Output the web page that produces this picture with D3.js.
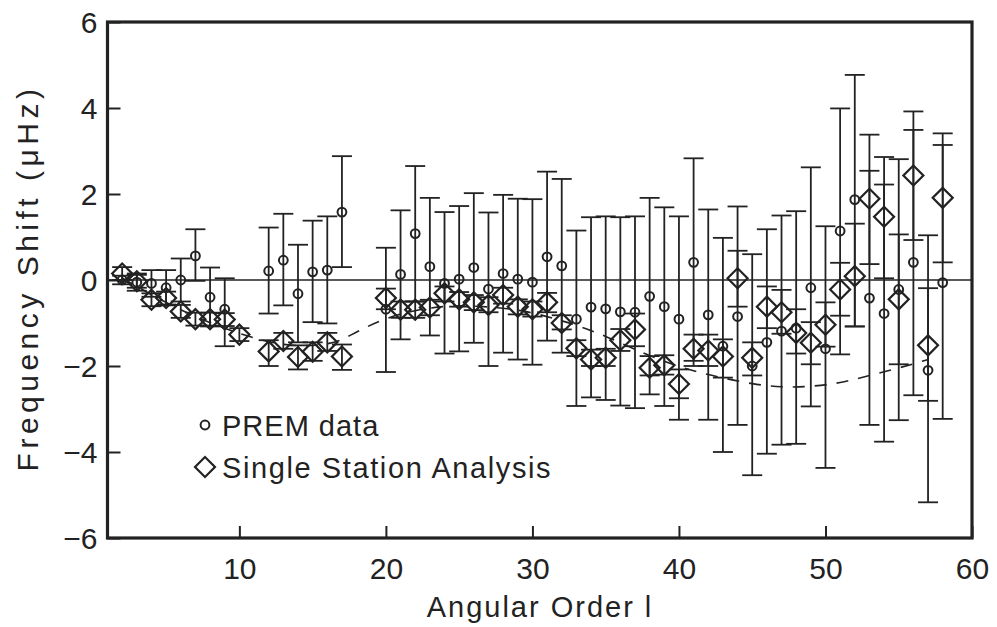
<!DOCTYPE html>
<html>
<head>
<meta charset="utf-8">
<script src="https://cdn.jsdelivr.net/npm/d3@7/dist/d3.min.js"></script>
<style>
  html, body { margin: 0; padding: 0; background: #fff; }
  svg { display: block; }
  text { font-family: "Liberation Sans", Arial, sans-serif; fill: #222; }
</style>
</head>
<body>
<svg id="chart" width="997" height="627"></svg>
<script>
// Angular order l for each dataset
const premL = [2,3,4,5,6,7,8,9,12,13,14,15,16,17,20,21,22,23,24,25,26,27,28,29,30,31,32,33,34,35,36,37,38,39,40,41,42,43,44,45,46,47,48,49,50,51,52,53,54,55,56,57,58];
// PREM frequency shift (µHz) and its error range
const premV  = [0.00,-0.05,-0.08,-0.18,0.00,0.56,-0.40,-0.68,0.21,0.46,-0.32,0.19,0.23,1.58,-0.68,0.13,1.08,0.31,-0.08,0.02,0.29,-0.21,0.15,0.02,-0.05,0.54,0.33,-0.91,-0.63,-0.67,-0.74,-0.75,-0.38,-0.62,-0.91,0.41,-0.81,-1.54,-0.85,-2.00,-1.45,-1.19,-1.12,-0.18,-1.60,1.14,1.87,-0.42,-0.78,-0.22,0.41,-2.10,-0.06];
const premLo = [-0.10,-0.25,-0.39,-0.59,-0.50,-0.02,-1.08,-1.54,-0.78,-0.59,-1.45,-0.98,-1.01,0.30,-2.14,-1.38,-0.50,-1.29,-1.71,-1.66,-1.46,-2.00,-1.69,-1.85,-1.97,-1.41,-1.69,-2.93,-2.73,-2.79,-2.92,-2.98,-2.66,-2.93,-3.25,-2.00,-3.25,-4.00,-3.37,-4.54,-4.04,-3.83,-3.81,-2.94,-4.37,-1.73,-1.08,-3.37,-3.76,-3.26,-2.68,-5.17,-3.23];
const premHi = [0.10,0.15,0.23,0.23,0.50,1.18,0.29,0.04,1.22,1.54,0.82,1.38,1.48,2.88,0.75,1.62,2.65,1.91,1.58,1.72,2.02,1.57,1.98,1.89,1.88,2.52,2.35,1.15,1.46,1.48,1.46,1.48,1.91,1.69,1.48,2.83,1.64,0.98,1.71,0.60,1.18,1.50,1.60,2.62,1.25,3.99,4.77,3.38,2.86,2.81,3.92,1.04,3.41];

const ssaL = [2,3,4,5,6,7,8,9,10,12,13,14,15,16,17,20,21,22,23,24,25,26,27,28,29,30,31,32,33,34,35,36,37,38,39,40,41,42,43,44,45,46,47,48,49,50,51,52,53,54,55,56,57,58];
// Single station analysis frequency shift (µHz) and its error range
const ssaV  = [0.15,-0.03,-0.46,-0.42,-0.73,-0.91,-0.91,-0.92,-1.27,-1.66,-1.42,-1.79,-1.67,-1.45,-1.78,-0.42,-0.69,-0.69,-0.64,-0.31,-0.45,-0.52,-0.58,-0.35,-0.62,-0.68,-0.52,-1.00,-1.59,-1.85,-1.81,-1.40,-1.15,-2.04,-1.98,-2.42,-1.60,-1.64,-1.78,0.04,-1.81,-0.62,-0.75,-1.23,-1.46,-1.04,-0.22,0.09,1.89,1.47,-0.45,2.43,-1.52,1.91];
const ssaLo = [0.00,-0.18,-0.61,-0.57,-0.88,-1.06,-1.06,-1.07,-1.42,-2.00,-1.60,-2.08,-1.88,-1.65,-2.09,-0.68,-0.88,-0.88,-0.82,-0.50,-0.62,-0.70,-0.75,-0.55,-0.80,-0.85,-0.75,-1.15,-1.77,-2.00,-2.00,-1.65,-1.54,-2.22,-2.20,-2.75,-1.88,-2.00,-2.27,-0.62,-2.22,-1.12,-1.25,-1.71,-1.96,-1.55,-0.83,-1.08,0.37,0.04,-1.96,0.93,-2.81,0.41];
const ssaHi = [0.30,0.12,-0.31,-0.27,-0.58,-0.76,-0.76,-0.77,-1.12,-1.40,-1.23,-1.52,-1.45,-1.23,-1.50,-0.20,-0.50,-0.50,-0.46,-0.15,-0.28,-0.35,-0.40,-0.18,-0.45,-0.50,-0.30,-0.82,-1.40,-1.62,-1.60,-1.14,-0.78,-1.77,-1.75,-2.08,-1.27,-1.27,-1.38,0.68,-1.45,-0.15,-0.23,-0.68,-0.98,-0.52,0.40,1.31,2.54,2.22,1.06,3.49,-0.19,3.14];

// Model curve (dashed)
const modelL = [2,4,6,8,10,12,14,16,17,18,20,22,24,26,28,30,32,33,35,37,39,41,43,45,47,49,51,53,55,57];
const modelV = [0.05,-0.35,-0.70,-1.00,-1.25,-1.45,-1.55,-1.50,-1.40,-1.20,-0.88,-0.70,-0.60,-0.60,-0.65,-0.75,-0.95,-1.05,-1.30,-1.62,-1.90,-2.12,-2.28,-2.42,-2.50,-2.48,-2.40,-2.22,-2.05,-1.85];

const xTicks = [10,20,30,40,50,60];
const yTicks = [-6,-4,-2,0,2,4,6];
const legendLabels = ["PREM data", "Single Station Analysis"];
const xTitle = "Angular Order l";
const yTitle = "Frequency Shift (\u03bcHz)";

const ink = "#222";
const svg = d3.select("#chart");

const x = d3.scaleLinear().domain([1, 60]).range([107.5, 972]);
const y = d3.scaleLinear().domain([-6, 6]).range([538, 22]);

// axes with inward ticks
const gx = svg.append("g").attr("transform", `translate(0,${y(-6)})`)
  .call(d3.axisBottom(x).tickValues(xTicks).tickSizeInner(-12).tickSizeOuter(0).tickPadding(20).tickFormat(d3.format("d")));
const gy = svg.append("g").attr("transform", `translate(${x(1)},0)`)
  .call(d3.axisLeft(y).tickValues(yTicks).tickSizeInner(-13).tickSizeOuter(0).tickPadding(10).tickFormat(d3.format("d")));
[gx, gy].forEach(g => {
  g.select(".domain").remove();
  g.selectAll(".tick line").attr("stroke", ink).attr("stroke-width", 2);
  g.selectAll(".tick text").attr("fill", ink).style("font-size", "30px").style("font-family", "Liberation Sans, Arial, sans-serif");
});
gy.selectAll(".tick text").attr("dy", "0.36em");

// zero line
svg.append("line")
  .attr("x1", x(1)).attr("x2", x(60)).attr("y1", y(0)).attr("y2", y(0))
  .attr("stroke", ink).attr("stroke-width", 1.6);

// dashed model curve
svg.append("path")
  .datum(modelL.map((l, i) => [l, modelV[i]]))
  .attr("fill", "none").attr("stroke", ink).attr("stroke-width", 1.6)
  .attr("stroke-dasharray", "12,10")
  .attr("d", d3.line().x(d => x(d[0])).y(d => y(d[1])).curve(d3.curveBasis));

const cap = 10;
function errorBars(ls, lo, hi) {
  const g = svg.append("g").attr("stroke", ink).attr("stroke-width", 1.8).attr("fill", "none");
  ls.forEach((l, i) => {
    const cx = x(l);
    g.append("line").attr("x1", cx).attr("x2", cx).attr("y1", y(lo[i])).attr("y2", y(hi[i]));
    g.append("line").attr("x1", cx - cap).attr("x2", cx + cap).attr("y1", y(lo[i])).attr("y2", y(lo[i]));
    g.append("line").attr("x1", cx - cap).attr("x2", cx + cap).attr("y1", y(hi[i])).attr("y2", y(hi[i]));
  });
}
errorBars(premL, premLo, premHi);
errorBars(ssaL, ssaLo, ssaHi);

const diamond = d3.symbol().type(d3.symbolSquare).size(200);

// diamond markers
svg.append("g").selectAll("path").data(ssaL).join("path")
  .attr("d", diamond)
  .attr("transform", (l, i) => `translate(${x(l)},${y(ssaV[i])}) rotate(45)`)
  .attr("fill", "none").attr("stroke", ink).attr("stroke-width", 2.2);

// circle markers
svg.append("g").selectAll("circle").data(premL).join("circle")
  .attr("cx", l => x(l)).attr("cy", (l, i) => y(premV[i])).attr("r", 4.4)
  .attr("fill", "none").attr("stroke", ink).attr("stroke-width", 2);

// frame
svg.append("rect")
  .attr("x", x(1)).attr("y", y(6)).attr("width", x(60) - x(1)).attr("height", y(-6) - y(6))
  .attr("fill", "none").attr("stroke", ink).attr("stroke-width", 3.2);

// legend
svg.append("circle").attr("cx", 205).attr("cy", 425).attr("r", 4.4)
  .attr("fill", "none").attr("stroke", ink).attr("stroke-width", 2);
svg.append("path").attr("d", diamond).attr("transform", "translate(205,467) rotate(45)")
  .attr("fill", "none").attr("stroke", ink).attr("stroke-width", 2.2);
svg.append("text").attr("x", 222).attr("y", 436).style("font-size", "29px").style("letter-spacing", "1px").text(legendLabels[0]);
svg.append("text").attr("x", 222).attr("y", 478).style("font-size", "29px").style("letter-spacing", "1.6px").text(legendLabels[1]);

// axis titles
svg.append("text").attr("x", 540).attr("y", 617).attr("text-anchor", "middle")
  .style("font-size", "29px").style("letter-spacing", "2px").text(xTitle);
svg.append("text").attr("transform", "translate(38,278) rotate(-90)").attr("text-anchor", "middle")
  .style("font-size", "30px").style("letter-spacing", "4.5px").text(yTitle);
</script>
</body>
</html>
